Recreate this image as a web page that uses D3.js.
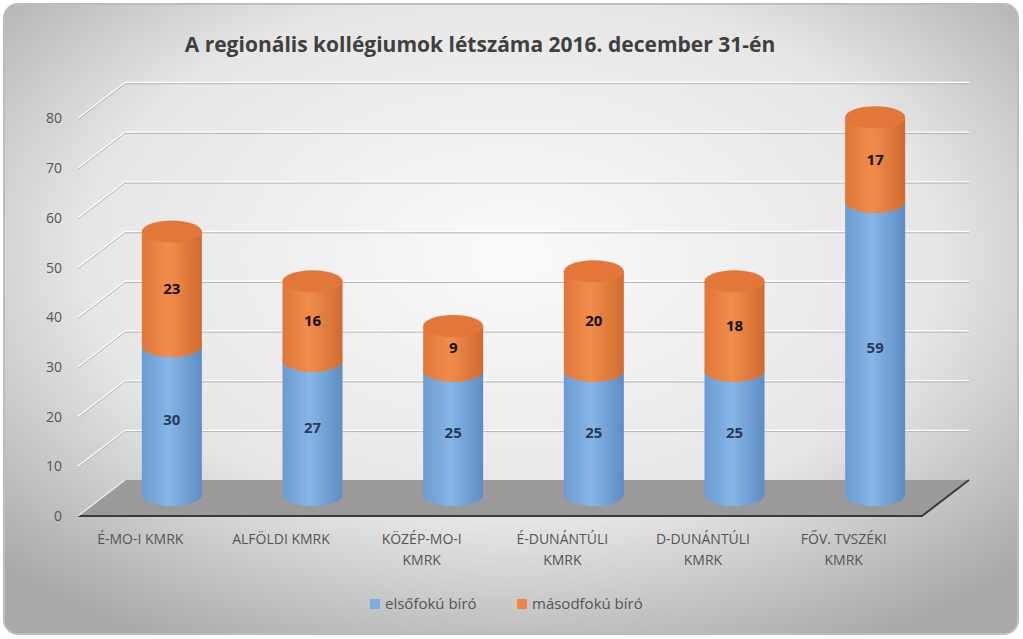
<!DOCTYPE html><html><head><meta charset="utf-8"><script src="https://cdn.jsdelivr.net/npm/d3@7"></script>
<style>body{margin:0;background:#fff}text{font-family:"Open Sans",sans-serif}</style></head><body><svg id="c" width="1023" height="639"></svg>
<script>
const categories=[["É-MO-I KMRK"],["ALFÖLDI KMRK"],["KÖZÉP-MO-I","KMRK"],["É-DUNÁNTÚLI","KMRK"],["D-DUNÁNTÚLI","KMRK"],["FŐV. TVSZÉKI","KMRK"]];
const elso=[30,27,25,25,25,59];
const masod=[23,16,9,20,18,17];
const ticks=[0,10,20,30,40,50,60,70,80];
const seriesNames=["elsőfokú bíró","másodfokú bíró"];
const svg=d3.select("#c"),defs=svg.append("defs");
const bg=defs.append("radialGradient").attr("id","bg").attr("cx","50%").attr("cy","40%").attr("r","70%");
bg.append("stop").attr("offset","0").attr("stop-color","#fafafa");
bg.append("stop").attr("offset","0.6").attr("stop-color","#e6e6e6");
bg.append("stop").attr("offset","1").attr("stop-color","#a9a9a9");
function cylGrad(id,c1,c2,c3){const g=defs.append("linearGradient").attr("id",id);
g.append("stop").attr("offset","0").attr("stop-color",c1);g.append("stop").attr("offset","0.45").attr("stop-color",c2);g.append("stop").attr("offset","1").attr("stop-color",c3);}
cylGrad("gb","#6b9bd0","#86b6e6","#5e8cc4");cylGrad("go","#e0763a","#f18d4b","#d06a30");
svg.append("rect").attr("x",4).attr("y",4).attr("width",1014).attr("height",630).attr("rx",14).attr("fill","url(#bg)").attr("stroke","#bdbdbd").attr("stroke-width",2);
svg.append("text").attr("x",480).attr("y",52).attr("text-anchor","middle").attr("font-size",21).attr("font-weight","bold").attr("fill","#404040").text("A regionális kollégiumok létszáma 2016. december 31-én");
const x0=78,x1=922,yBase=516,dx=47,dy=-36;
const y=d3.scaleLinear().domain([0,80]).range([0,-397.6]);
const x=d3.scaleBand().domain(d3.range(6)).range([x0,x1]);
svg.append("path").attr("d",`M${x0},${yBase}L${x1},${yBase}L${x1+dx},${yBase+dy}L${x0+dx},${yBase+dy}Z`).attr("fill","#9a9a9a");
svg.append("path").attr("d",`M${x0},${yBase}L${x1},${yBase}L${x1+dx},${yBase+dy}`).attr("fill","none").attr("stroke","#3a3a3a").attr("stroke-width",2);
ticks.forEach(t=>{const yb=yBase+dy+y(t),yf=yBase+y(t);
if(t>0){svg.append("path").attr("d",`M${x0},${yf}L${x0+dx},${yb}L${x1+dx},${yb}`).attr("fill","none").attr("stroke","#fff").attr("stroke-width",1.3);
svg.append("path").attr("d",`M${x0},${yf+1.3}L${x0+dx},${yb+1.3}L${x1+dx},${yb+1.3}`).attr("fill","none").attr("stroke","#b5b5b5").attr("stroke-width",1);}
else svg.append("path").attr("d",`M${x0},${yf}L${x0+dx},${yb}`).attr("fill","none").attr("stroke","#eee").attr("stroke-width",1.3);
svg.append("text").attr("x",62).attr("y",yf+5).attr("text-anchor","end").attr("font-size",14).attr("fill","#555").text(t);});
const rx=30,ry=11;
categories.forEach((c,i)=>{const cx=x(i)+x.bandwidth()/2+dx/2,b=yBase+dy/2-3;
const segs=[[0,elso[i],"gb","#2a3a55"],[elso[i],elso[i]+masod[i],"go","#111"]];
const g=svg.append("g");
segs.forEach(([a,z,gr,tc],k)=>{const ya=b+y(a),yz=b+y(z);
g.append("path").attr("d",`M${cx-rx},${yz}L${cx-rx},${ya}A${rx},${ry} 0 0 0 ${cx+rx},${ya}L${cx+rx},${yz}Z`).attr("fill",`url(#${gr})`);
g.append("ellipse").attr("cx",cx).attr("cy",yz).attr("rx",rx).attr("ry",ry).attr("fill",k==0?"#e68245":"#e3773a");
g.append("text").attr("x",cx).attr("y",(ya+yz)/2+5).attr("text-anchor","middle").attr("font-size",15).attr("font-weight","bold").attr("fill",tc).text(z-a);});
c.forEach((l,j)=>svg.append("text").attr("x",x(i)+x.bandwidth()/2-8).attr("y",544+j*21).attr("text-anchor","middle").attr("font-size",14).attr("fill","#555").text(l));});
[[370,"#7aaee0"],[517,"#ef8540"]].forEach(([lx,col],i)=>{svg.append("rect").attr("x",lx).attr("y",599).attr("width",10).attr("height",10).attr("fill",col);
svg.append("text").attr("x",lx+15).attr("y",609).attr("font-size",15).attr("fill","#555").text(seriesNames[i]);});
</script></body></html>
